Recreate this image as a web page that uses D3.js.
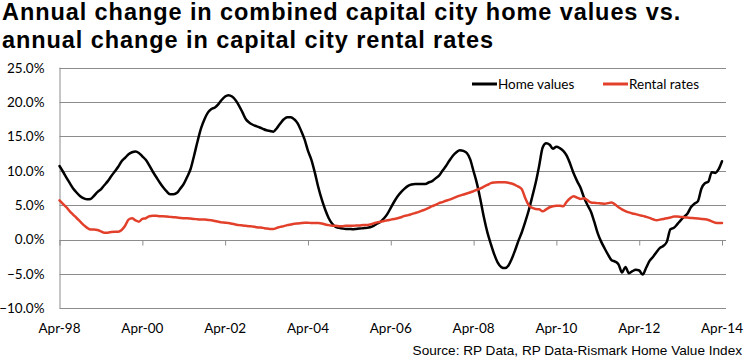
<!DOCTYPE html>
<html><head><meta charset="utf-8">
<script src="https://cdn.jsdelivr.net/npm/d3@7"></script>
<style>
html,body{margin:0;padding:0;background:#fff;}
svg{display:block;}
</style></head>
<body>
<svg id="chart" width="745" height="363"></svg>
<script>
// Monthly series, Apr-98 .. Apr-14
const startMonth = "1998-04";
const homeValues = [
10.7,9.9,9.0,8.2,7.4,6.8,6.3,6.0,5.85,5.9,6.4,6.9,7.3,7.9,8.5,9.2,9.9,10.6,11.4,11.9,
12.4,12.7,12.8,12.6,12.1,11.6,10.8,9.9,9.1,8.3,7.6,7.0,6.6,6.6,6.8,7.4,8.1,9.1,10.3,12.2,
14.3,16.2,17.5,18.5,19.0,19.2,19.7,20.3,20.8,21.0,20.8,20.3,19.5,18.5,17.5,17.0,16.7,16.5,16.3,16.1,
15.9,15.8,15.7,16.2,16.9,17.5,17.8,17.8,17.5,16.9,15.8,14.6,12.9,11.6,9.7,7.6,5.8,4.3,3.1,2.3,
1.85,1.7,1.6,1.55,1.55,1.5,1.55,1.6,1.65,1.7,1.8,2.0,2.3,2.6,3.1,3.7,4.6,5.5,6.3,6.9,
7.4,7.8,8.0,8.1,8.1,8.1,8.1,8.3,8.5,8.9,9.3,10.0,10.7,11.5,12.2,12.7,13.0,12.9,12.6,11.7,
9.9,8.1,5.7,3.2,1.0,-0.7,-2.2,-3.4,-4.0,-4.15,-3.8,-2.9,-1.6,-0.2,1.1,2.6,4.3,6.3,8.3,10.8,
13.4,14.0,13.8,13.2,13.5,13.3,12.9,12.2,11.0,9.6,8.5,7.5,6.1,5.0,4.0,2.6,0.9,-0.3,-1.3,-2.2,
-3.0,-3.2,-3.6,-4.8,-4.0,-4.9,-4.6,-4.4,-4.5,-5.1,-4.1,-3.1,-2.5,-1.8,-1.2,-0.9,-0.3,1.5,1.7,2.2,
2.8,3.3,3.8,4.7,5.2,5.6,7.4,8.2,8.4,9.8,9.7,10.2,11.4
];
const rentalRates = [
5.7,5.2,4.7,4.1,3.6,3.1,2.6,2.1,1.7,1.45,1.45,1.4,1.2,1.0,1.0,1.1,1.15,1.15,1.4,2.0,
2.9,3.1,2.8,2.6,3.0,3.1,3.4,3.45,3.45,3.4,3.4,3.35,3.3,3.25,3.2,3.15,3.1,3.1,3.05,3.0,
2.95,2.9,2.9,2.85,2.8,2.7,2.6,2.5,2.45,2.4,2.3,2.2,2.1,2.05,2.0,1.95,1.9,1.8,1.75,1.7,
1.6,1.55,1.55,1.7,1.85,1.95,2.1,2.2,2.3,2.35,2.4,2.45,2.45,2.4,2.4,2.4,2.35,2.2,2.1,2.0,
2.0,1.95,1.95,2.0,2.0,2.0,2.05,2.05,2.1,2.1,2.2,2.35,2.5,2.6,2.7,2.8,2.9,3.0,3.1,3.25,
3.45,3.55,3.7,3.85,4.0,4.2,4.4,4.6,4.85,5.05,5.3,5.45,5.65,5.8,6.0,6.2,6.4,6.55,6.7,6.85,
7.05,7.25,7.45,7.7,7.95,8.2,8.3,8.35,8.35,8.35,8.25,8.15,7.95,7.7,7.3,6.0,5.0,4.6,4.45,4.4,
4.1,4.4,4.7,4.85,4.9,4.9,4.85,5.5,6.0,6.3,6.1,5.9,6.0,5.7,5.4,5.35,5.3,5.25,5.2,5.3,
5.4,5.1,4.7,4.4,4.15,3.95,3.8,3.7,3.55,3.45,3.3,3.15,2.95,2.8,2.9,3.0,3.1,3.2,3.35,3.35,
3.3,3.25,3.2,3.15,3.1,3.05,3.0,2.95,2.85,2.65,2.45,2.4,2.4
];
const yTicks = [25, 20, 15, 10, 5, 0, -5, -10];
const xTickLabels = ["Apr-98","Apr-00","Apr-02","Apr-04","Apr-06","Apr-08","Apr-10","Apr-12","Apr-14"];
const seriesNames = ["Home values", "Rental rates"];
const seriesColors = ["#000000", "#e2402b"];
const titleLines = ["Annual change in combined capital city home values vs.",
                    "annual change in capital city rental rates"];
const sourceText = "Source: RP Data, RP Data-Rismark Home Value Index";

const svg = d3.select("#chart");
const parseM = d3.timeParse("%Y-%m");
const t0 = parseM(startMonth);
const dates = homeValues.map((_, i) => d3.timeMonth.offset(t0, i));
const tickDates = xTickLabels.map(s => d3.timeParse("%b-%y")(s));

const plotL = 59.5, plotR = 722, gridR = 726;
const x = d3.scaleTime().domain([t0, dates[dates.length - 1]]).range([plotL, plotR]);
const y = d3.scaleLinear().domain([-10, 25]).range([308.3, 67.7]);

// title
const titles = svg.append("g").selectAll("text").data(titleLines).join("text")
  .attr("x", 2).attr("y", (d, i) => 20 + i * 28)
  .attr("font-family", "'Liberation Sans', Arial, sans-serif")
  .attr("font-weight", "bold").attr("font-size", 23.5).attr("fill", "#000")
  .text(d => d);
// widen letter spacing so the second line ends where the reference does
{
  const n2 = titles.nodes()[1];
  const w = n2.getComputedTextLength();
  const ls = (491 - w) / (titleLines[1].length - 1);
  titles.attr("letter-spacing", Math.max(0, ls));
}

// gridlines
svg.append("g").selectAll("line").data(yTicks).join("line")
  .attr("x1", plotL).attr("x2", gridR)
  .attr("y1", d => Math.round(y(d)) + 0.5).attr("y2", d => Math.round(y(d)) + 0.5)
  .attr("stroke", "#8c8c8c").attr("stroke-width", 1);

// y axis
const yAxis = d3.axisLeft(y).tickValues(yTicks).tickSize(0).tickPadding(0)
  .tickFormat(d => d3.format(".1f")(d) + "%");
const gy = svg.append("g").attr("transform", `translate(${plotL},0)`).call(yAxis);
gy.select(".domain").attr("stroke", "#8c8c8c").attr("d", `M0.5,${y(25)}V${y(-10)}`);
gy.selectAll("text").attr("x", -15)
  .attr("font-family", "Lato, 'Open Sans', sans-serif").attr("font-size", 13.5).attr("fill", "#000");

// x axis at zero with downward ticks
const y0 = Math.round(y(0)) + 0.5;
const xAxis = d3.axisBottom(x).tickValues(tickDates).tickSize(5).tickFormat("");
const gx = svg.append("g").attr("transform", `translate(0,${y0})`).call(xAxis);
gx.select(".domain").attr("stroke", "#8c8c8c").attr("d", `M${plotL},0H${gridR}`);
gx.selectAll(".tick line").attr("stroke", "#8c8c8c");

// x labels at bottom
svg.append("g").selectAll("text").data(tickDates).join("text")
  .attr("x", d => x(d)).attr("y", 333)
  .attr("text-anchor", "middle")
  .attr("font-family", "Lato, 'Open Sans', sans-serif").attr("font-size", 13.5).attr("fill", "#000")
  .text(d => d3.timeFormat("%b-%y")(d));

// lines
const series = [homeValues, rentalRates];
const line = d3.line().x((d, i) => x(dates[i])).y(d => y(d)).curve(d3.curveMonotoneX);
svg.append("g").selectAll("path").data(series).join("path")
  .attr("d", d => line(d)).attr("fill", "none")
  .attr("stroke", (d, i) => seriesColors[i]).attr("stroke-width", 2.5)
  .attr("stroke-linejoin", "round").attr("stroke-linecap", "round");

// legend
const legX = [472, 603];
const lg = svg.append("g").selectAll("g").data(seriesNames).join("g")
  .attr("transform", (d, i) => `translate(${legX[i]},84)`);
lg.append("line").attr("x1", 0).attr("x2", 25).attr("y1", 0).attr("y2", 0)
  .attr("stroke", (d, i) => seriesColors[i]).attr("stroke-width", 3);
lg.append("text").attr("x", 26).attr("y", 0).attr("dy", "0.35em")
  .attr("font-family", "Lato, 'Open Sans', sans-serif").attr("font-size", 13.5).attr("fill", "#000")
  .text(d => d);

// source
svg.append("text").attr("x", 742).attr("y", 355).attr("text-anchor", "end")
  .attr("font-family", "'Liberation Sans', Arial, sans-serif").attr("font-size", 13.6).attr("fill", "#000")
  .text(sourceText);
</script>
</body></html>
